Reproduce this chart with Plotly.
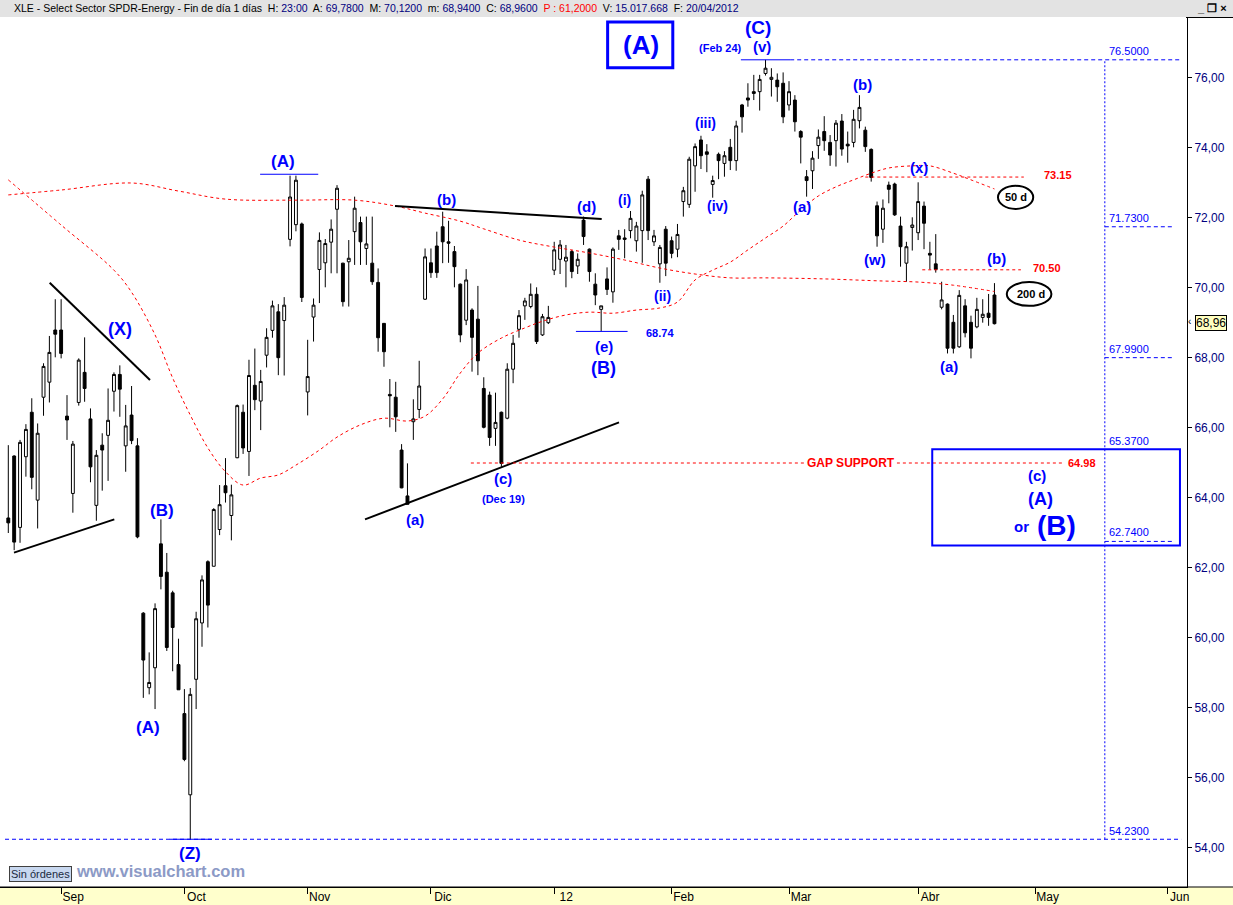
import plotly.graph_objects as go

# ---------------- DATA ----------------
# Daily candles, trading-day index 1..169 (19 Aug 2011 .. 20 Apr 2012)
opens = [63.41, 65.18, 63.14, 65.16, 66.43, 63.92, 66.86, 67.29, 68.78, 68.78,
         66.32, 64.11, 66.71, 67.57, 66.24, 63.77, 65.49, 65.77, 67.03, 67.51,
         65.47, 66.35, 65.47, 60.69, 58.56, 59.13, 62.67, 61.86, 61.27, 59.22,
         57.82, 55.50, 58.80, 60.41, 62.16, 62.03, 63.08, 64.33, 63.48, 65.13,
         66.43, 65.31, 67.20, 66.75, 68.06, 68.77, 69.30, 69.05, 71.37, 71.79,
         71.81, 67.01, 69.15, 70.51, 70.70, 71.29, 72.23, 70.69, 70.73, 71.59,
         71.85, 71.11, 70.69, 70.14, 68.97, 66.94, 66.86, 65.35, 64.04, 66.16,
         66.51, 69.66, 70.70, 71.18, 71.73, 71.30, 71.02, 70.09, 69.06, 69.35,
         69.09, 67.11, 66.92, 65.97, 66.43, 66.26, 67.66, 68.80, 69.47, 69.45,
         69.80, 68.64, 68.99, 70.49, 70.80, 70.75, 71.02, 70.61, 71.92, 71.09,
         70.09, 69.37, 70.24, 69.87, 71.47, 71.41, 71.62, 71.33, 71.62, 73.09,
         71.30, 70.67, 71.66, 71.33, 71.09, 72.45, 72.37, 73.47, 74.21, 73.87,
         72.94, 73.80, 73.54, 74.00, 73.62, 75.21, 75.41, 75.59, 75.59, 76.11,
         75.94, 75.92, 75.83, 75.21, 75.35, 74.45, 73.16, 73.33, 74.05, 74.45,
         74.14, 74.19, 74.75, 74.09, 74.14, 74.76, 74.49, 73.94, 72.33, 71.66,
         72.92, 72.95, 71.75, 70.69, 71.71, 71.56, 72.32, 70.97, 70.67, 69.43,
         69.52, 69.00, 68.30, 69.47, 69.00, 68.87, 69.14, 69.26, 69.78]
highs = [65.49, 65.20, 65.64, 66.09, 66.83, 66.11, 67.83, 68.61, 69.66, 69.66,
         66.92, 65.61, 67.97, 68.57, 66.54, 65.35, 65.83, 67.11, 67.57, 67.77,
         66.64, 67.18, 65.69, 60.72, 59.57, 60.97, 63.37, 62.41, 61.33, 59.96,
         58.52, 58.55, 60.73, 61.77, 62.20, 63.69, 64.35, 65.12, 64.36, 66.65,
         66.65, 67.93, 68.25, 67.64, 68.83, 69.62, 69.52, 69.72, 73.19, 73.19,
         71.85, 68.50, 69.68, 71.57, 71.38, 71.94, 72.92, 70.70, 71.35, 72.59,
         72.02, 72.02, 72.02, 70.54, 68.97, 67.38, 67.30, 65.52, 64.97, 66.80,
         67.90, 71.11, 71.11, 71.59, 72.16, 71.90, 71.18, 70.11, 70.52, 69.40,
         70.04, 67.43, 67.02, 66.99, 66.45, 67.83, 68.64, 69.35, 69.70, 70.11,
         70.00, 69.24, 69.47, 71.30, 71.35, 71.21, 71.07, 70.97, 72.02, 71.11,
         70.40, 69.47, 70.57, 71.14, 71.64, 71.66, 72.18, 71.87, 72.76, 73.18,
         71.64, 71.21, 71.75, 71.45, 71.81, 72.87, 73.73, 74.11, 74.33, 74.09,
         73.19, 73.85, 73.89, 74.24, 74.76, 75.24, 75.83, 76.07, 76.07, 76.50,
         76.26, 76.11, 76.14, 75.89, 75.49, 74.49, 73.35, 73.89, 74.51, 74.89,
         74.35, 74.78, 74.95, 74.45, 75.07, 75.49, 74.59, 73.97, 72.45, 72.51,
         73.02, 72.99, 72.02, 71.30, 72.00, 73.00, 72.45, 71.30, 71.52, 70.16,
         69.54, 69.21, 69.92, 69.66, 69.19, 69.70, 69.66, 69.81, 70.12]
lows = [62.98, 62.49, 62.70, 64.59, 64.23, 63.11, 66.33, 66.71, 68.00, 67.97,
        65.64, 63.56, 66.62, 66.73, 64.43, 63.33, 64.19, 64.47, 66.45, 66.30,
        64.73, 65.52, 62.83, 58.27, 58.37, 57.95, 61.37, 59.61, 59.03, 58.50,
        56.46, 54.22, 57.95, 59.73, 60.28, 62.03, 62.92, 63.85, 62.77, 65.12,
        65.24, 64.61, 66.49, 65.92, 67.71, 68.56, 67.49, 67.48, 71.17, 71.60,
        69.58, 66.34, 68.45, 69.55, 70.00, 70.40, 70.40, 69.45, 69.45, 70.64,
        70.64, 70.64, 70.07, 68.16, 67.73, 66.00, 65.87, 64.26, 63.80, 65.64,
        66.26, 69.64, 70.27, 70.27, 70.69, 70.70, 70.00, 68.43, 68.92, 67.59,
        67.49, 65.97, 65.47, 65.47, 64.87, 66.23, 67.26, 68.56, 69.07, 69.40,
        68.38, 68.61, 68.95, 70.35, 70.38, 70.00, 70.26, 70.38, 71.21, 70.16,
        69.49, 68.74, 69.78, 69.56, 71.07, 70.83, 71.40, 71.02, 70.70, 71.35,
        71.18, 70.13, 70.32, 70.83, 70.86, 72.02, 72.27, 72.73, 73.38, 73.29,
        72.56, 73.09, 73.16, 73.35, 73.33, 74.42, 75.16, 75.35, 75.05, 76.05,
        75.45, 75.30, 74.69, 75.05, 74.45, 73.54, 72.59, 72.81, 73.67, 73.90,
        73.47, 73.45, 73.76, 73.56, 74.00, 74.54, 73.87, 73.02, 71.16, 71.27,
        72.40, 72.04, 70.59, 70.16, 71.05, 71.35, 71.09, 70.51, 70.42, 69.37,
        68.11, 68.11, 68.27, 68.57, 67.97, 68.83, 68.99, 68.90, 68.94]
closes = [63.27, 62.72, 65.57, 65.94, 64.57, 65.83, 67.74, 68.14, 68.66, 68.11,
          66.21, 65.52, 67.92, 67.11, 64.87, 65.20, 65.35, 66.20, 67.51, 67.09,
          66.04, 65.62, 62.87, 59.35, 58.71, 60.82, 61.74, 59.71, 60.28, 58.50,
          56.51, 58.37, 60.53, 61.64, 60.92, 63.65, 63.79, 64.13, 64.07, 66.62,
          65.41, 67.48, 66.79, 67.31, 68.57, 69.47, 67.99, 69.49, 72.58, 73.06,
          69.71, 67.45, 69.49, 71.34, 71.25, 71.66, 72.83, 69.59, 70.83, 72.26,
          71.30, 71.24, 70.16, 68.56, 68.16, 66.90, 66.30, 64.27, 63.80, 66.24,
          67.18, 70.87, 70.42, 70.42, 71.30, 71.26, 70.59, 68.64, 70.21, 68.57,
          67.90, 66.00, 65.71, 66.14, 64.97, 67.66, 68.40, 69.19, 69.61, 69.80,
          68.45, 69.16, 69.14, 71.07, 71.21, 70.86, 70.45, 70.80, 71.45, 70.45,
          69.78, 69.47, 69.94, 71.09, 71.37, 71.37, 71.97, 71.75, 72.64, 71.62,
          71.47, 71.14, 70.69, 70.97, 71.51, 72.76, 73.66, 74.02, 73.76, 73.80,
          73.05, 73.62, 73.76, 73.62, 74.61, 74.87, 75.35, 75.54, 75.94, 76.26,
          76.00, 75.73, 74.87, 75.59, 74.73, 74.29, 73.05, 73.69, 74.29, 74.19,
          73.78, 74.69, 73.95, 74.04, 74.80, 75.14, 74.02, 73.14, 71.47, 72.26,
          72.80, 72.07, 71.16, 71.16, 71.78, 72.45, 71.83, 70.92, 70.51, 69.64,
          68.26, 68.26, 69.77, 68.70, 68.26, 69.37, 69.23, 69.14, 68.96]
bar_index = list(range(1, len(opens) + 1))

# month ticks (trading-day index of first session of each month)
month_ticks = [10, 31, 52, 73, 94, 114, 134, 156, 176, 198.5]
month_labels = ["Sep", "Oct", "Nov", "Dic", "12", "Feb", "Mar", "Abr", "May", "Jun"]

# moving averages read at selected sessions
ma50_idx = [1, 10, 19, 22, 26, 29, 32, 35, 38, 41, 44, 47, 50, 54, 57, 61, 65, 69,
            72, 75, 78, 81, 85, 89, 92, 96, 100, 104, 108, 112, 115, 118, 121, 124,
            127, 130, 133, 136, 139, 142, 145, 148, 151, 155, 158, 162, 165, 169]
ma50 = [73.07, 71.78, 70.49, 69.86, 68.64, 67.41, 66.35, 65.41, 64.73, 64.35, 64.55,
        64.64, 64.92, 65.35, 65.72, 66.07, 66.26, 66.18, 66.32, 66.81, 67.55, 68.12,
        68.55, 68.84, 69.03, 69.21, 69.29, 69.26, 69.35, 69.41, 69.58, 70.21, 70.49,
        70.72, 71.07, 71.41, 71.75, 72.21, 72.61, 72.87, 73.07, 73.26, 73.41, 73.47,
        73.47, 73.26, 73.07, 72.81]
ma200_idx = [1, 10, 22, 30, 38, 50, 60, 67, 72, 78, 82, 88, 94, 100, 106, 112, 118,
             124, 130, 140, 150, 156, 162, 169]
ma200 = [72.64, 72.78, 72.98, 72.75, 72.52, 72.49, 72.49, 72.32, 72.12, 71.89, 71.67,
         71.35, 71.15, 70.98, 70.78, 70.55, 70.38, 70.27, 70.27, 70.24, 70.18, 70.15,
         70.06, 69.88]

price_ticks = list(range(54, 77, 2))
price_labels = [f"{v},00" for v in price_ticks]

# ---------------- LAYOUT ----------------
W, H = 1233, 905
ML, MR, MT, MB = 0, 46, 17, 18
PW, PH = W - ML - MR, H - MT - MB
XR = [-0.414, 201.8]
YR = [52.866, 77.723]

def PX(x):  # pixel -> paper x
    return (x - ML) / PW

def PY(y):  # pixel -> paper y
    return (H - MB - y) / PH

BLUE = "#0000FF"
RED = "#FF0000"
FONT = "Liberation Sans"

fig = go.Figure()
fig.add_trace(go.Candlestick(
    x=bar_index, open=opens, high=highs, low=lows, close=closes,
    increasing=dict(line=dict(color="black", width=1), fillcolor="white"),
    decreasing=dict(line=dict(color="black", width=1), fillcolor="black"),
    whiskerwidth=0, hoverinfo="skip", showlegend=False))
fig.add_trace(go.Scatter(x=ma200_idx, y=ma200, mode="lines", showlegend=False,
                         line=dict(color=RED, width=1, dash="3px,3px", shape="spline"),
                         hoverinfo="skip"))
fig.add_trace(go.Scatter(x=ma50_idx, y=ma50, mode="lines", showlegend=False,
                         line=dict(color=RED, width=1, dash="3px,3px", shape="spline"),
                         hoverinfo="skip"))

shapes = []
def dline(x0, y0, x1, y1, color, width=1, dash="solid"):
    shapes.append(dict(type="line", xref="x", yref="y", x0=x0, y0=y0, x1=x1, y1=y1,
                       line=dict(color=color, width=width, dash=dash)))

# trend lines
dline(1.97, 62.42, 19.06, 63.37, "black", 2)
dline(8.05, 70.13, 25.14, 67.35, "black", 2)
dline(66.88, 72.32, 102.09, 71.95, "black", 2)
dline(61.77, 63.37, 105.04, 66.14, "black", 2)
# wave underlines
dline(43.9, 73.23, 53.8, 73.23, BLUE, 1)
dline(97.7, 68.74, 106.5, 68.74, BLUE, 1)
dline(125.8, 76.50, 134.2, 76.50, BLUE, 1)
dline(28.5, 54.23, 35.7, 54.23, BLUE, 1)
# levels
dline(134.2, 76.50, 200.8, 76.50, BLUE, 1, "4px,3px")
dline(0.44, 54.23, 200.8, 54.23, BLUE, 1, "4px,3px")
for lv in [71.73, 67.99, 62.74]:
    dline(187.8, lv, 199.4, lv, BLUE, 1, "4px,3px")
dline(187.8, 54.23, 187.8, 76.50, BLUE, 1, "2px,2px")
dline(147.0, 73.15, 174.0, 73.15, RED, 1, "3px,3px")
dline(156.7, 70.50, 173.5, 70.50, RED, 1, "3px,3px")
dline(79.8, 64.98, 180.7, 64.98, RED, 1, "3px,3px")
# boxes
shapes.append(dict(type="rect", xref="x", yref="y", x0=158.4, x1=200.6, y0=62.62, y1=65.37,
                   line=dict(color=BLUE, width=2)))
shapes.append(dict(type="rect", xref="x", yref="y", x0=103.1, x1=114.2, y0=76.27, y1=77.58,
                   line=dict(color=BLUE, width=3)))
# ellipses
shapes.append(dict(type="circle", xref="x", yref="y", x0=169.6, x1=175.6, y0=72.24, y1=72.90,
                   line=dict(color="black", width=2)))
shapes.append(dict(type="circle", xref="x", yref="y", x0=171.1, x1=178.7, y0=69.47, y1=70.15,
                   line=dict(color="black", width=2)))
# header band, bottom band, frame lines
shapes.append(dict(type="rect", xref="paper", yref="paper", x0=0, x1=W / PW, y0=1,
                   y1=1 + MT / PH, fillcolor="#E3E3E3", line=dict(width=0), layer="below"))
shapes.append(dict(type="rect", xref="paper", yref="paper", x0=0, x1=W / PW, y0=-MB / PH,
                   y1=0, fillcolor="#FFFFCC", line=dict(width=0), layer="below"))
shapes.append(dict(type="line", xref="paper", yref="paper", x0=0, x1=W / PW, y0=0, y1=0,
                   line=dict(color="black", width=1)))
shapes.append(dict(type="line", xref="paper", yref="paper", x0=PX(1186), x1=W / PW,
                   y0=PY(17.5), y1=PY(17.5), line=dict(color="black", width=1)))

ann = []
def lab(text, x, y, size, color=BLUE, bold=True, xanchor="center", **kw):
    d = dict(text=text, x=PX(x), y=PY(y), xref="paper", yref="paper", showarrow=False,
             xanchor=xanchor, yanchor="middle",
             font=dict(family=FONT, size=size, color=color, weight="bold" if bold else "normal"))
    d.update(kw)
    ann.append(d)

wave_labels = [
    ("(A)", 641, 45, 26), ("(C)", 758, 28, 19), ("(Feb 24)", 720, 48, 11),
    ("(v)", 762, 47, 15), ("(iii)", 705, 123, 14), ("(iv)", 717, 206, 14),
    ("(i)", 624, 200, 14), ("(ii)", 662, 296, 14), ("(a)", 802, 206, 15),
    ("(b)", 862, 84, 15), ("(x)", 919, 168, 15), ("(w)", 875, 259, 15),
    ("(b)", 997, 258, 15), ("(a)", 949, 366, 15), ("(A)", 283, 161, 17),
    ("(b)", 446, 200, 15), ("(d)", 586, 207, 15), ("(e)", 604, 346, 15),
    ("(B)", 604, 368, 18), ("68.74", 660, 333, 11), ("(c)", 503, 479, 15),
    ("(Dec 19)", 504, 499, 11), ("(a)", 415, 519, 15), ("(X)", 120, 329, 18),
    ("(B)", 162, 510, 17), ("(A)", 148, 727, 17), ("(Z)", 190, 853, 17),
    ("(c)", 1037, 475, 15), ("(A)", 1040, 499, 18), ("or", 1021, 526, 15),
    ("(B)", 1056, 525, 28),
]
for t, x, y, s in wave_labels:
    lab(t, x, y, s)

lab("GAP SUPPORT", 851, 463, 12, RED, bgcolor="white")
lab("64.98", 1082, 463, 11, RED)
lab("73.15", 1058, 175, 11, RED)
lab("70.50", 1047, 268, 11, RED)
lab("50 d", 1015.5, 197.5, 11, "black")
lab("200 d", 1030.5, 294, 11, "black")

for t, y in [("76.5000", 51), ("71.7300", 218), ("67.9900", 349), ("65.3700", 441),
             ("62.7400", 532), ("54.2300", 831)]:
    lab(t, 1107, y, 11, BLUE, bold=False, xanchor="left")

# last price tag
lab("68,96", 1211, 322.5, 12, "black", bold=False, bgcolor="#FFFFC0",
    bordercolor="black", borderwidth=1, borderpad=0)
lab("‹", 1190, 322, 10, "black", bold=False)

# header text
NV = "#000080"
hdr = ("XLE - Select Sector SPDR-Energy - Fin de día 1 días&nbsp; H: "
       f"<span style='color:{NV}'>23:00</span>&nbsp; A: <span style='color:{NV}'>69,7800</span>"
       f"&nbsp; M: <span style='color:{NV}'>70,1200</span>&nbsp; m: <span style='color:{NV}'>68,9400</span>"
       f"&nbsp; C: <span style='color:{NV}'>68,9600</span>&nbsp; <span style='color:{RED}'>P : 61,2000</span>"
       f"&nbsp; V: <span style='color:{NV}'>15.017.668</span>&nbsp; F: <span style='color:{NV}'>20/04/2012</span>")
lab(hdr, 12, 8, 10.5, "black", bold=False, xanchor="left")
lab("_ ❐ ×", 1212, 8, 11, "black", bold=True)

# bottom band
lab("Sin órdenes", 40, 874, 11, "#1A2A40", bold=False, bgcolor="#C8D8F0",
    bordercolor="#404040", borderwidth=1, borderpad=1)
lab("www.visualchart.com", 160, 871, 16.5, "#8C9AC6", bold=True)

fig.update_layout(
    width=W, height=H, margin=dict(l=ML, r=MR, t=MT, b=MB, pad=0),
    paper_bgcolor="white", plot_bgcolor="white", showlegend=False,
    shapes=shapes, annotations=ann,
    xaxis=dict(range=XR, showgrid=False, zeroline=False, rangeslider=dict(visible=False),
               tickvals=month_ticks, ticktext=month_labels, ticks="outside", ticklen=6,
               tickcolor="black", showline=True, linecolor="black", linewidth=1,
               tickfont=dict(family=FONT, size=12, color="black"),
               ticklabelshift=12, ticklabelstandoff=-7, fixedrange=True, automargin=False),
    yaxis=dict(range=YR, side="right", showgrid=False, zeroline=False,
               tickvals=price_ticks, ticktext=price_labels, ticks="outside", ticklen=4,
               tickcolor="black", showline=True, linecolor="black", linewidth=1,
               tickfont=dict(family=FONT, size=12, color=NV), fixedrange=True,
               automargin=False),
)

fig.write_html("out.html", config={"displayModeBar": False},
               post_script="document.body.style.margin='0px';"
                           "document.body.style.overflow='hidden';")
